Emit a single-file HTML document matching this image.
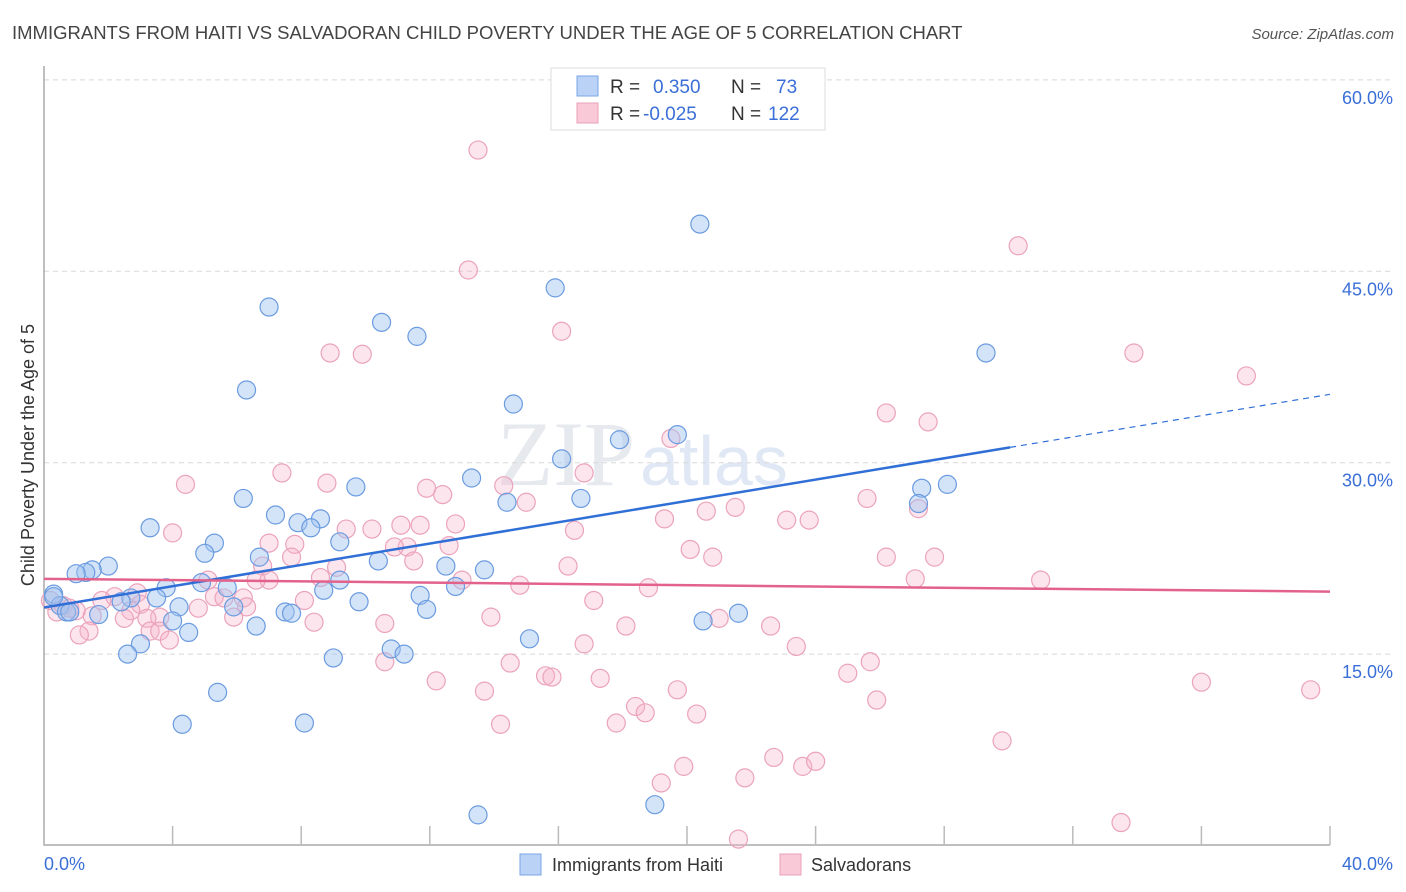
<!DOCTYPE html>
<html><head><meta charset="utf-8"><style>
body{margin:0;background:#fff;font-family:"Liberation Sans",sans-serif}
svg{display:block}
</style></head><body>
<svg id="c" width="1406" height="892" xmlns="http://www.w3.org/2000/svg">
<text x="12" y="39" font-size="18.5" fill="#444">IMMIGRANTS FROM HAITI VS SALVADORAN CHILD POVERTY UNDER THE AGE OF 5 CORRELATION CHART</text>
<text x="1394" y="39" font-size="15" fill="#555" font-style="italic" text-anchor="end">Source: ZipAtlas.com</text>
<text x="635" y="485" font-size="92" fill="#e6e9ee" text-anchor="end" font-family="Liberation Serif,serif">ZIP</text>
<text x="640" y="485" font-size="70" fill="#dfe8f4">atlas</text>
<g id="grid"></g><g id="pts"></g><g id="trend"></g>
<text x="34" y="455" font-size="18" fill="#333" text-anchor="middle" transform="rotate(-90 34 455)">Child Poverty Under the Age of 5</text>
<text x="44" y="870" font-size="18" fill="#3a6fd8">0.0%</text>
<text x="1393" y="870" font-size="18" fill="#3a6fd8" text-anchor="end">40.0%</text>
<g>
<rect x="551" y="68" width="274" height="62" fill="#fff" stroke="#ddd"/>
<rect x="577" y="76" width="21" height="20" fill="#b9d2f5" stroke="#7aa6e6"/>
<rect x="577" y="103" width="21" height="20" fill="#f9c9d8" stroke="#eaa0b8"/>
<text x="610" y="93" font-size="19" fill="#333">R =</text><text x="653" y="93" font-size="19" fill="#3a6fd8">0.350</text>
<text x="731" y="93" font-size="19" fill="#333">N =</text><text x="776" y="93" font-size="19" fill="#3a6fd8">73</text>
<text x="610" y="120" font-size="19" fill="#333">R =</text><text x="643" y="120" font-size="19" fill="#3a6fd8">-0.025</text>
<text x="731" y="120" font-size="19" fill="#333">N =</text><text x="768" y="120" font-size="19" fill="#3a6fd8">122</text>
</g>
<g><rect x="520" y="854" width="21" height="21" fill="#b9d2f5" stroke="#7aa6e6"/><text x="552" y="871" font-size="18" fill="#333">Immigrants from Haiti</text></g>
<g><rect x="780" y="854" width="21" height="21" fill="#f9c9d8" stroke="#eaa0b8"/><text x="811" y="871" font-size="18" fill="#333">Salvadorans</text></g>
</svg>
<script>
const yTicks=[15,30,45,60];
const yTickLabels=["15.0%","30.0%","45.0%","60.0%"];
const xTicks=[0,4,8,12,16,20,24,28,32,36,40];
const blueX=[20.4,15.9,7.0,10.5,11.6,29.3,6.3,14.6,19.7,17.9,16.1,13.3,9.7,6.2,16.7,14.4,27.3,28.1,27.2,3.3,7.2,8.6,7.9,8.3,5.3,5.0,6.7,9.2,10.4,12.5,13.7,2.0,1.5,1.3,1.0,3.8,4.9,5.7,8.7,9.2,11.7,12.8,9.8,2.7,3.5,2.4,0.3,0.5,0.7,0.8,1.7,4.2,5.9,7.5,7.7,11.9,4.0,4.5,6.6,15.1,20.5,21.6,3.0,2.6,10.8,11.2,9.0,5.4,4.3,8.1,19.0,13.5,0.3];
const blueY=[48.7,43.7,42.2,41.0,39.9,38.6,35.7,34.6,32.2,31.8,30.3,28.8,28.1,27.2,27.2,26.9,28.0,28.3,26.8,24.9,25.9,25.6,25.3,24.9,23.7,22.9,22.6,23.8,22.3,21.9,21.6,21.9,21.6,21.4,21.3,20.2,20.6,20.2,20.0,20.8,19.6,20.3,19.1,19.4,19.4,19.1,19.7,18.8,18.3,18.3,18.1,18.7,18.7,18.3,18.2,18.5,17.6,16.7,17.2,16.2,17.6,18.2,15.8,15.0,15.4,15.0,14.7,12.0,9.5,9.6,3.2,2.4,19.5];
const pinkX=[13.5,30.3,13.2,16.1,8.9,9.9,33.9,37.4,26.2,27.5,19.5,7.4,16.8,4.4,8.8,11.9,14.3,12.4,15.0,25.6,27.2,21.5,20.6,19.3,23.1,23.8,12.8,11.1,11.7,9.4,10.2,4.0,16.5,12.6,11.3,10.9,7.8,7.0,20.1,20.8,26.2,27.7,7.7,9.1,11.5,16.3,6.8,8.6,27.1,31.0,13.0,7.0,5.1,6.6,14.8,18.8,6.2,5.3,5.6,2.9,2.2,1.8,8.1,17.1,3.0,6.3,4.8,3.6,2.7,3.2,2.5,1.5,1.0,0.6,5.9,13.9,8.4,10.6,18.1,22.6,21.0,3.3,3.6,3.9,1.4,1.1,23.4,16.8,25.7,10.6,14.5,25.0,36.0,15.6,15.8,12.2,17.3,13.7,19.7,39.4,25.9,18.4,18.7,20.3,17.8,14.2,29.8,22.7,19.9,23.6,24.0,21.8,19.2,33.5,21.6,0.2,0.4,0.8];
const pinkY=[54.5,47.0,45.1,40.3,38.6,38.5,38.6,36.8,33.9,33.2,31.9,29.2,29.2,28.3,28.4,28.0,28.2,27.5,26.9,27.2,26.4,26.5,26.2,25.6,25.5,25.5,25.2,25.1,25.1,24.8,24.8,24.5,24.7,23.5,23.4,23.4,23.6,23.7,23.2,22.6,22.6,22.6,22.6,21.8,22.3,21.9,21.9,21.0,20.9,20.8,20.8,20.8,20.8,20.8,20.4,20.2,19.4,19.5,19.4,19.8,19.5,19.2,19.2,19.2,18.9,18.7,18.6,17.9,18.4,17.8,17.8,18.0,18.4,18.8,17.9,17.9,17.5,17.4,17.2,17.2,17.8,16.8,16.8,16.1,16.8,16.5,15.6,15.8,14.4,14.4,14.3,13.5,12.8,13.3,13.2,12.9,13.1,12.1,12.2,12.2,11.4,10.9,10.4,10.3,9.6,9.5,8.2,6.9,6.2,6.2,6.6,5.3,4.9,1.8,0.5,19.2,18.3,18.6];
const blueTrend=[18.65,0.4177];
const pinkTrend=[20.9,-0.025];
const X=v=>44+v*32.15, Y=v=>845.5-v*12.76;
const NS="http://www.w3.org/2000/svg";
function mk(tag,attrs,parent){const e=document.createElementNS(NS,tag);for(const k in attrs)e.setAttribute(k,attrs[k]);parent.appendChild(e);return e;}
const grid=document.getElementById('grid');
yTicks.forEach((t,i)=>{
 const l=mk('line',{x1:44,x2:1394,y1:Y(t),y2:Y(t),stroke:'#d8d8d8','stroke-dasharray':'5,4'},grid);
 
 
 const tx=mk('text',{x:1393,y:Y(t)+24,'font-size':18,fill:'#3a6fd8','text-anchor':'end'},grid);
 tx.textContent=yTickLabels[i];
 
 
});
const ax=mk('path',{d:`M44 66V845H1330`,stroke:'#aaa',fill:'none','stroke-width':1.5},grid);


xTicks.forEach(t=>{
 const l=mk('line',{x1:X(t),x2:X(t),y1:826,y2:845,stroke:'#bbb','stroke-width':1.5},grid);
 
 
});
const pts=document.getElementById('pts');
pinkX.forEach((x,i)=>{
 const c=mk('circle',{cx:X(x),cy:Y(pinkY[i]),r:9,fill:'rgba(246,180,202,0.35)',stroke:'#eba3bb','stroke-width':1.2},pts);
 
 
});
blueX.forEach((x,i)=>{
 const c=mk('circle',{cx:X(x),cy:Y(blueY[i]),r:9,fill:'rgba(160,196,240,0.45)',stroke:'#6b9be0','stroke-width':1.2},pts);
 
 
});
const tr=document.getElementById('trend');
const bf=v=>blueTrend[0]+blueTrend[1]*v, pf=v=>pinkTrend[0]+pinkTrend[1]*v;
const b1=mk('line',{x1:X(0),y1:Y(bf(0)),x2:X(30.05),y2:Y(bf(30.05)),stroke:'#2f6fd6','stroke-width':2.5},tr);


const b2=mk('line',{x1:X(30.05),y1:Y(bf(30.05)),x2:X(40),y2:Y(bf(40)),stroke:'#2f6fd6','stroke-width':1.2,'stroke-dasharray':'6,5'},tr);


const p1=mk('line',{x1:X(0),y1:Y(pf(0)),x2:X(40),y2:Y(pf(40)),stroke:'#e2628c','stroke-width':2.5},tr);


</script>
</body></html>
